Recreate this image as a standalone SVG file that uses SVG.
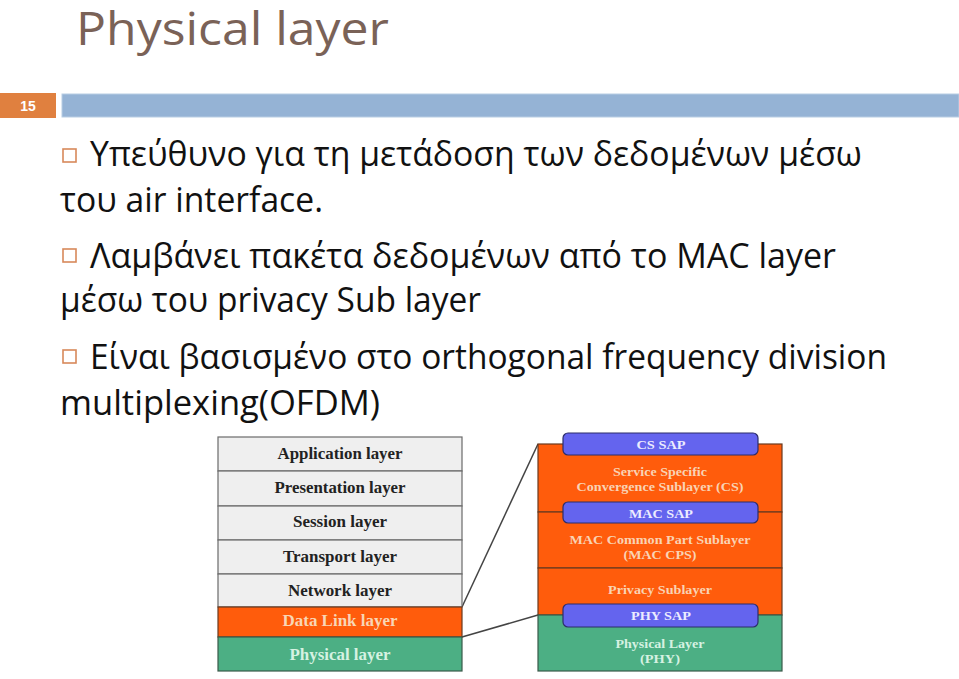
<svg xmlns="http://www.w3.org/2000/svg" width="959" height="679" viewBox="0 0 959 679">
<style>
.title{font-family:"Open Sans","Noto Sans",sans-serif;font-size:46px;fill:#7a6257}
.body{font-family:"Open Sans","Noto Sans",sans-serif;font-size:34px;fill:#111}
.bul{fill:#fff;stroke:#d8895a;stroke-width:1.6}
.osi{fill:#efefef;stroke:#6a6a6a;stroke-width:1.2}
.lt{font-family:"Liberation Serif","Times New Roman",serif;font-weight:bold;font-size:16px;fill:#222;text-anchor:middle}
.rt{font-family:"Liberation Serif","Times New Roman",serif;font-weight:bold;font-size:13.5px;fill:#f9d3b4;text-anchor:middle}
.sapt{font-family:"Liberation Serif","Times New Roman",serif;font-weight:bold;font-size:13.5px;fill:#ececff;text-anchor:middle}
.sap{fill:#6464ee;stroke:#2d2d6a;stroke-width:1.2}
.orange{fill:#ff5c0c;stroke:#6a3a20;stroke-width:1.2}
.green{fill:#4caf84;stroke:#3a5a4a;stroke-width:1.2}
.conn{stroke:#444;stroke-width:1.5;fill:none}
</style>

<text class="title" x="76" y="45" textLength="313" lengthAdjust="spacingAndGlyphs">Physical layer</text>

<g id="header">
<rect x="0" y="93" width="56" height="25" fill="#e0803f"/>
<text x="28" y="111" text-anchor="middle" font-family="Liberation Sans,Arial,sans-serif" font-weight="bold" font-size="14" fill="#fff">15</text>
<rect x="62" y="94" width="897" height="23" fill="#95b3d5" stroke="#b8cde3" stroke-width="1"/>
</g>

<g id="bullets">
<rect class="bul" x="63" y="149" width="13" height="13"/>
<text class="body" x="90" y="166" textLength="772" lengthAdjust="spacingAndGlyphs">Υπεύθυνο για τη μετάδοση των δεδομένων μέσω</text>
<text class="body" x="60" y="212" textLength="263" lengthAdjust="spacingAndGlyphs">του air interface.</text>
<rect class="bul" x="63" y="249" width="13" height="13"/>
<text class="body" x="90" y="268" textLength="746" lengthAdjust="spacingAndGlyphs">Λαμβάνει πακέτα δεδομένων από το MAC layer</text>
<text class="body" x="60" y="312" textLength="421" lengthAdjust="spacingAndGlyphs">μέσω του privacy Sub layer</text>
<rect class="bul" x="63" y="350" width="13" height="13"/>
<text class="body" x="90" y="369" textLength="797" lengthAdjust="spacingAndGlyphs">Είναι βασισμένο στο orthogonal frequency division</text>
<text class="body" x="60" y="415" textLength="320" lengthAdjust="spacingAndGlyphs">multiplexing(OFDM)</text>
</g>

<g id="connectors">
<line class="conn" x1="462" y1="607" x2="538" y2="444"/>
<line class="conn" x1="462" y1="637" x2="538" y2="615"/>
</g>

<g id="application">
<rect class="osi" x="218" y="437" width="244" height="34"/>
<text class="lt" x="340" y="459" textLength="125" lengthAdjust="spacingAndGlyphs">Application layer</text>
</g>
<g id="presentation">
<rect class="osi" x="218" y="471" width="244" height="35"/>
<text class="lt" x="340" y="493" textLength="131" lengthAdjust="spacingAndGlyphs">Presentation layer</text>
</g>
<g id="session">
<rect class="osi" x="218" y="506" width="244" height="34"/>
<text class="lt" x="340" y="527" textLength="94" lengthAdjust="spacingAndGlyphs">Session layer</text>
</g>
<g id="transport">
<rect class="osi" x="218" y="540" width="244" height="34"/>
<text class="lt" x="340" y="562" textLength="114" lengthAdjust="spacingAndGlyphs">Transport layer</text>
</g>
<g id="network">
<rect class="osi" x="218" y="574" width="244" height="33"/>
<text class="lt" x="340" y="596" textLength="104" lengthAdjust="spacingAndGlyphs">Network layer</text>
</g>
<g id="datalink">
<rect class="orange" x="218" y="607" width="244" height="30"/>
<text class="lt" x="340" y="626" style="fill:#f8d6b6" textLength="115" lengthAdjust="spacingAndGlyphs">Data Link layer</text>
</g>
<g id="physical">
<rect class="green" x="218" y="637" width="244" height="34"/>
<text class="lt" x="340" y="660" style="fill:#d6f2e2" textLength="101" lengthAdjust="spacingAndGlyphs">Physical layer</text>
</g>

<g id="cs">
<rect class="orange" x="538" y="444" width="244" height="68"/>
<text class="rt" x="660" y="476" textLength="94" lengthAdjust="spacingAndGlyphs">Service Specific</text>
<text class="rt" x="660" y="491" textLength="167" lengthAdjust="spacingAndGlyphs">Convergence Sublayer (CS)</text>
</g>
<g id="maccps">
<rect class="orange" x="538" y="512" width="244" height="56"/>
<text class="rt" x="660" y="544" textLength="181" lengthAdjust="spacingAndGlyphs">MAC Common Part Sublayer</text>
<text class="rt" x="660" y="559" textLength="73" lengthAdjust="spacingAndGlyphs">(MAC CPS)</text>
</g>
<g id="privacy">
<rect class="orange" x="538" y="568" width="244" height="47"/>
<text class="rt" x="660" y="594" textLength="104" lengthAdjust="spacingAndGlyphs">Privacy Sublayer</text>
</g>
<g id="phy">
<rect class="green" x="538" y="615" width="244" height="56"/>
<text class="rt" x="660" y="648" style="fill:#d6f2e2" textLength="89" lengthAdjust="spacingAndGlyphs">Physical Layer</text>
<text class="rt" x="660" y="663" style="fill:#d6f2e2" textLength="40" lengthAdjust="spacingAndGlyphs">(PHY)</text>
</g>

<g id="cssap">
<rect class="sap" x="563" y="433" width="195" height="22" rx="5"/>
<text class="sapt" x="661" y="449" textLength="49" lengthAdjust="spacingAndGlyphs">CS SAP</text>
</g>
<g id="macsap">
<rect class="sap" x="563" y="502" width="195" height="21" rx="5"/>
<text class="sapt" x="661" y="518" textLength="64" lengthAdjust="spacingAndGlyphs">MAC SAP</text>
</g>
<g id="physap">
<rect class="sap" x="563" y="604" width="195" height="23" rx="5"/>
<text class="sapt" x="661" y="620" textLength="60" lengthAdjust="spacingAndGlyphs">PHY SAP</text>
</g>
</svg>
